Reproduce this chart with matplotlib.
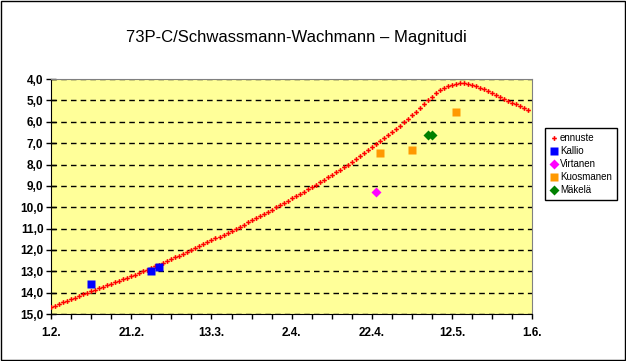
import matplotlib
matplotlib.use('Agg')
import matplotlib.pyplot as plt
import numpy as np
from matplotlib.patches import Rectangle

plt.rcParams['font.family'] = ['Liberation Sans', 'DejaVu Sans']

# ennuste, one value per day starting 1.2.
start = np.datetime64('2006-02-01')
ennuste = [14.68, 14.60, 14.53, 14.45, 14.38, 14.30, 14.23, 14.15, 14.07, 14.00,
           13.93, 13.86, 13.79, 13.72, 13.65, 13.58, 13.51, 13.44, 13.37, 13.30,
           13.22, 13.15, 13.08, 13.00, 12.92, 12.84, 12.76, 12.68, 12.59, 12.51,
           12.43, 12.34, 12.26, 12.17, 12.08, 12.00, 11.91, 11.82, 11.73, 11.64,
           11.55, 11.46, 11.37, 11.28, 11.19, 11.10, 11.01, 10.91, 10.81, 10.71,
           10.61, 10.51, 10.41, 10.31, 10.21, 10.11, 10.01, 9.91, 9.80, 9.70,
           9.59, 9.48, 9.38, 9.27, 9.16, 9.05, 8.94, 8.83, 8.71, 8.60,
           8.48, 8.36, 8.24, 8.12, 8.00, 7.87, 7.74, 7.60, 7.47, 7.33,
           7.19, 7.05, 6.91, 6.77, 6.62, 6.48, 6.33, 6.18, 6.03, 5.86,
           5.69, 5.52, 5.35, 5.17, 5.00, 4.83, 4.67, 4.53, 4.41, 4.32,
           4.26, 4.22, 4.20, 4.20, 4.22, 4.27, 4.33, 4.40, 4.48, 4.56,
           4.65, 4.73, 4.82, 4.92, 5.02, 5.11, 5.19, 5.27, 5.35, 5.43]
ennuste_dates = start + np.arange(len(ennuste))

kallio_dates = ['2006-02-11', '2006-02-26', '2006-02-28']
kallio_mag = [13.6, 13.0, 12.8]

virtanen_dates = ['2006-04-23']
virtanen_mag = [9.3]

kuosmanen_dates = ['2006-04-24', '2006-05-02', '2006-05-13']
kuosmanen_mag = [7.45, 7.3, 5.55]

makela_dates = ['2006-05-06', '2006-05-07']
makela_mag = [6.6, 6.6]

tick_dates = ['2006-02-01', '2006-02-21', '2006-03-13', '2006-04-02',
              '2006-04-22', '2006-05-12', '2006-06-01']
tick_labels = ['1.2.', '21.2.', '13.3.', '2.4.', '22.4.', '12.5.', '1.6.']
y_ticks = [4, 5, 6, 7, 8, 9, 10, 11, 12, 13, 14, 15]


def dt(lst):
    return np.array(lst, dtype='datetime64[D]')


fig = plt.figure(figsize=(6.26, 3.61), dpi=100)
ax = fig.add_axes([0.0815, 0.130, 0.769, 0.651])
ax.set_facecolor('#FFFF99')

ax.plot(ennuste_dates, ennuste, ls='none', marker='P', ms=3.4, color='#FF0000',
        mec='none', label='ennuste', zorder=3)
ax.plot(dt(kallio_dates), kallio_mag, ls='none', marker='s', ms=5.5, color='#0000FF',
        mec='none', label='Kallio', zorder=4)
ax.plot(dt(virtanen_dates), virtanen_mag, ls='none', marker='D', ms=5, color='#FF00FF',
        mec='none', label='Virtanen', zorder=4)
ax.plot(dt(kuosmanen_dates), kuosmanen_mag, ls='none', marker='s', ms=5.5, color='#FF9900',
        mec='none', label='Kuosmanen', zorder=4)
ax.plot(dt(makela_dates), makela_mag, ls='none', marker='D', ms=5, color='#008000',
        mec='none', label='Mäkelä', zorder=4)

ax.set_ylim(15, 4)
ax.set_yticks(y_ticks)
ax.set_yticklabels([f'{v:.1f}'.replace('.', ',') for v in y_ticks], fontweight='bold')
ax.yaxis.grid(True, color='black', linestyle=(0, (4, 3)), linewidth=1)
ax.set_axisbelow(True)

ax.set_xlim(start, start + np.timedelta64(120, 'D'))
ax.set_xticks(dt(tick_dates))
ax.set_xticklabels(tick_labels, fontweight='bold')
ax.set_xticks(start + np.arange(0, 121, 5), minor=True)

ax.tick_params(axis='y', direction='inout', length=7, width=1, labelsize=8.5, pad=2)
ax.tick_params(axis='x', which='both', direction='out', length=3.5, width=1,
               labelsize=8.5, pad=6)
ax.tick_params(axis='x', which='minor', labelbottom=False)

for s in ['left', 'bottom']:
    ax.spines[s].set_color('black')
for s in ['top', 'right']:
    ax.spines[s].set_color('#808080')

leg = ax.legend(loc='upper left', bbox_to_anchor=(1.027, 0.79), frameon=True,
                fancybox=False, edgecolor='black', framealpha=1, fontsize=7,
                handlelength=0.7, handletextpad=0.3, borderpad=0.5,
                labelspacing=0.3, borderaxespad=0, markerscale=1.0)
leg.get_frame().set_linewidth(1)

fig.text(0.473, 0.897, '73P-C/Schwassmann-Wachmann – Magnitudi',
         ha='center', va='center', fontsize=12)

fig.patches.append(Rectangle((0.001, 0.002), 0.997, 0.995, transform=fig.transFigure,
                             fill=False, edgecolor='black', linewidth=1))

fig.savefig('out.png', dpi=100)
